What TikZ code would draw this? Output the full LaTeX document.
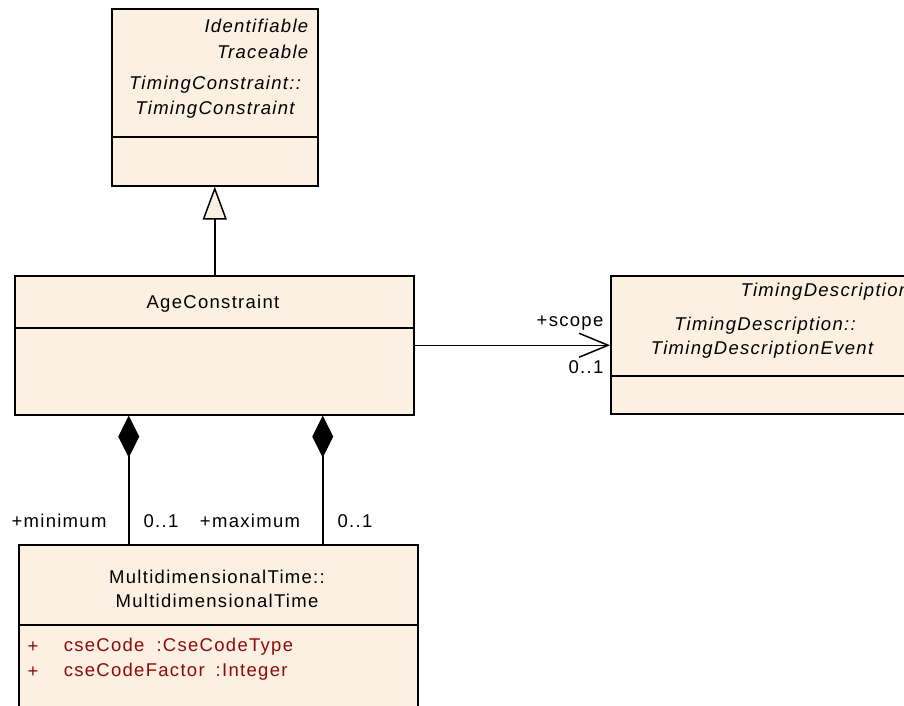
\documentclass[tikz,border=0pt]{standalone}
\usepackage{fontspec}
\setmainfont[LetterSpace=7]{Liberation Sans}
\usetikzlibrary{arrows.meta}
\definecolor{umlfill}{RGB}{251,240,225}
\definecolor{umlattr}{RGB}{140,10,10}

\begin{document}
\begin{tikzpicture}[x=1pt,y=-1pt,font=\fontsize{18.5}{22}\selectfont,line width=1.5pt]
  \tikzstyle{cls}=[draw,fill=umlfill,inner sep=0pt,anchor=north west]
  \tikzstyle{lbl}=[inner sep=0pt]
  \tikzstyle{attr}=[inner sep=0pt,text=umlattr]
  \tikzstyle{gen}=[-{Triangle[open,length=33pt,width=24pt,fill=umlfill]}]
  \tikzstyle{assoc}=[-{Straight Barb[length=29pt,width=24pt]}]
  \tikzstyle{compo}=[{Diamond[length=42pt,width=21pt]}-]
  \useasboundingbox (0,0) rectangle (904,705);
  \node[cls,minimum width=206pt,minimum height=177pt] (tc) at (111,8) {};
  \node[cls,minimum width=399pt,minimum height=139pt] (age) at (14,275) {};
  \node[cls,minimum width=310pt,minimum height=138pt] (tde) at (610,275) {};
  \node[cls,minimum width=399pt,minimum height=180pt] (mdt) at (18,544) {};
  \draw ([yshift=-129pt]tc.north west) -- ([yshift=-129pt]tc.north east);
  \draw ([yshift=-53pt]age.north west) -- ([yshift=-53pt]age.north east);
  \draw ([yshift=-101pt]tde.north west) -- ([yshift=-101pt]tde.north east);
  \draw ([yshift=-81pt]mdt.north west) -- ([yshift=-81pt]mdt.north east);
  \node[lbl,anchor=east] (tcs1) at (309,26) {\itshape Identifiable};
  \node[lbl,anchor=east] (tcs2) at (309,52) {\itshape Traceable};
  \node[lbl] (tcn1) at (215,85) {\itshape TimingConstraint::};
  \node[lbl] (tcn2) at (215,110) {\itshape TimingConstraint};
  \node[lbl] (agen) at (213,304) {AgeConstraint};
  \node[lbl,anchor=east] (tdes) at (910,292) {\itshape TimingDescription};
  \node[lbl] (tden1) at (765,326) {\itshape TimingDescription::};
  \node[lbl] (tden2) at (762,350) {\itshape TimingDescriptionEvent};
  \node[lbl] (mdtn1) at (217,577) {MultidimensionalTime::};
  \node[lbl] (mdtn2) at (217,601) {MultidimensionalTime};
  \node[attr] (v1) at (33,647) {+};
  \node[attr] (v2) at (33,672) {+};
  \node[attr,anchor=west] (a1) at (63,647) {cseCode\hspace*{12pt}:CseCodeType};
  \node[attr,anchor=west] (a2) at (63,672) {cseCodeFactor\hspace*{11pt}:Integer};
  \draw[gen] (age.north -| tc.south) -- (tc.south);
  \draw[assoc] (age.east) -- (age.east -| tde.west);
  \draw[compo] ([xshift=-85.5pt]age.south) -- ([xshift=-85.5pt]age.south |- mdt.north);
  \draw[compo] ([xshift=108.5pt]age.south) -- ([xshift=108.5pt]age.south |- mdt.north);
  \node[lbl] (scope) at (570,323) {+scope};
  \node[lbl] (scopem) at (586,367) {0..1};
  \node[lbl] (minr) at (59,521) {+minimum};
  \node[lbl] (minm) at (161,521) {0..1};
  \node[lbl] (maxr) at (250,521) {+maximum};
  \node[lbl] (maxm) at (355,521) {0..1};
\end{tikzpicture}
\end{document}
